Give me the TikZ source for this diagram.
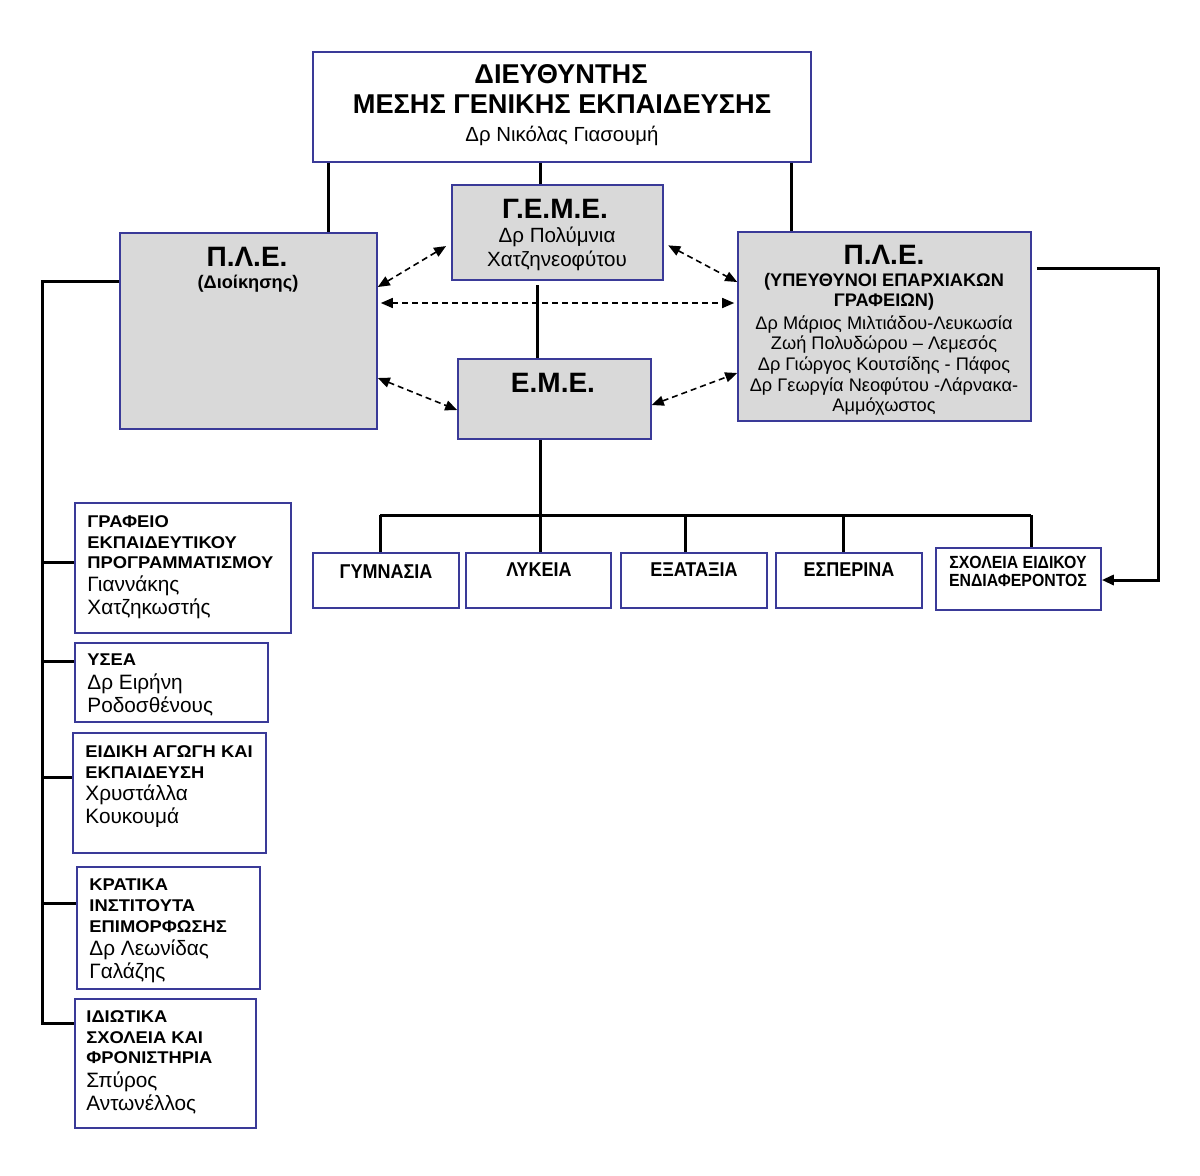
\documentclass[tikz,border=0pt]{standalone}
\usepackage{fontspec}
\setmainfont{Liberation Sans}
\newfontfamily\narrowfont[FakeStretch=0.9]{Liberation Sans}
\newfontfamily\widefont[FakeStretch=1.08]{Liberation Sans}
\usetikzlibrary{fit,arrows.meta}
\definecolor{bord}{HTML}{3A3A98}
\definecolor{boxgray}{HTML}{D9D9D9}
\tikzset{
 box/.style={draw=bord, line width=0.8pt, inner sep=0pt},
 graybox/.style={box, fill=boxgray},
 conn/.style={line width=1.5pt, black},
 dashar/.style={line width=0.8pt, dash pattern=on 3pt off 2pt, {Triangle[length=6pt,width=5pt]}-{Triangle[length=6pt,width=5pt]}},
 endar/.style={-{Triangle[length=6pt,width=5pt]}},
 txt/.style={inner sep=0pt, anchor=base},
 ttl/.style={txt, font=\bfseries\fontsize{13.6}{15}\selectfont},
 big/.style={txt, font=\bfseries\fontsize{14}{16}\selectfont},
 nm/.style={txt, font=\fontsize{9.1}{11}\selectfont},
 nmg/.style={txt, font=\fontsize{10.3}{12}\selectfont},
 sub/.style={txt, font=\bfseries\fontsize{9.1}{11}\selectfont},
 lb/.style={inner sep=0pt, anchor=base west, font=\widefont\bfseries\fontsize{8.5}{10}\selectfont},
 ln/.style={inner sep=0pt, anchor=base west, font=\fontsize{10.4}{12}\selectfont},
 nb/.style={txt, font=\narrowfont\bfseries\fontsize{10}{12}\selectfont},
 nbs/.style={txt, font=\narrowfont\bfseries\fontsize{8.8}{10}\selectfont},
}
\begin{document}
\begin{tikzpicture}[x=0.5pt,y=-0.5pt]
\useasboundingbox (0,0) rectangle (1200,1175);
% boxes
\node[box, fit={(313,52)(811,162)}] (top) {};
\node[graybox, fit={(120,233)(377,429)}] (ple1) {};
\node[graybox, fit={(452,185)(663,280)}] (geme) {};
\node[graybox, fit={(458,359)(651,439)}] (eme) {};
\node[graybox, fit={(738,232)(1031,421)}] (ple2) {};
\node[box, fit={(313,553)(459,608)}] (gym) {};
\node[box, fit={(466,553)(611,608)}] (lyk) {};
\node[box, fit={(621,553)(767,608)}] (exa) {};
\node[box, fit={(776,553)(922,608)}] (esp) {};
\node[box, fit={(936,548)(1101,610)}] (sxol) {};
\node[box, fit={(75,503)(291,633)}] (graf) {};
\node[box, fit={(75,643)(268,722)}] (ysea) {};
\node[box, fit={(73,733)(266,853)}] (eid) {};
\node[box, fit={(77,867)(260,989)}] (krat) {};
\node[box, fit={(75,999)(256,1128)}] (idio) {};
% texts
\node[ttl] (t1) at (561,83) {ΔΙΕΥΘΥΝΤΗΣ};
\node[ttl] (t2) at (562,113) {ΜΕΣΗΣ ΓΕΝΙΚΗΣ ΕΚΠΑΙΔΕΥΣΗΣ};
\node[nmg, font=\fontsize{10.2}{12}\selectfont] (t3) at (562,141) {Δρ Νικόλας Γιασουμή};
\node[big] (p1a) at (247,266) {Π.Λ.Ε.};
\node[sub] (p1b) at (248,288) {(Διοίκησης)};
\node[big] (g1) at (555,218) {Γ.Ε.Μ.Ε.};
\node[nmg] (g2) at (557,242) {Δρ Πολύμνια};
\node[nmg] (g3) at (557,266) {Χατζηνεοφύτου};
\node[big] (e1) at (553,392) {Ε.Μ.Ε.};
\node[big] (p2a) at (884,264) {Π.Λ.Ε.};
\node[sub] (p2b) at (884,286) {(ΥΠΕΥΘΥΝΟΙ ΕΠΑΡΧΙΑΚΩΝ};
\node[sub] (p2c) at (884,306) {ΓΡΑΦΕΙΩΝ)};
\node[nm] (p2d) at (884,329) {Δρ Μάριος Μιλτιάδου-Λευκωσία};
\node[nm] (p2e) at (884,349) {Ζωή Πολυδώρου – Λεμεσός};
\node[nm] (p2f) at (884,370) {Δρ Γιώργος Κουτσίδης - Πάφος};
\node[nm] (p2g) at (884,391) {Δρ Γεωργία Νεοφύτου -Λάρνακα-};
\node[nm] (p2h) at (884,411) {Αμμόχωστος};
\node[nb] (b1) at (386,578) {ΓΥΜΝΑΣΙΑ};
\node[nb] (b2) at (539,576) {ΛΥΚΕΙΑ};
\node[nb] (b3) at (694,576) {ΕΞΑΤΑΞΙΑ};
\node[nb] (b4) at (849,576) {ΕΣΠΕΡΙΝΑ};
\node[nbs] (b5a) at (1018,568) {ΣΧΟΛΕΙΑ ΕΙΔΙΚΟΥ};
\node[nbs] (b5b) at (1018,586) {ΕΝΔΙΑΦΕΡΟΝΤΟΣ};
\node[lb] (l1a) at (87,527) {ΓΡΑΦΕΙΟ};
\node[lb] (l1b) at (87,548) {ΕΚΠΑΙΔΕΥΤΙΚΟΥ};
\node[lb] (l1c) at (87,568) {ΠΡΟΓΡΑΜΜΑΤΙΣΜΟΥ};
\node[ln] (l1d) at (87,591) {Γιαννάκης};
\node[ln] (l1e) at (87,614) {Χατζηκωστής};
\node[lb] (l2a) at (87,665) {ΥΣΕΑ};
\node[ln] (l2b) at (87,689) {Δρ Ειρήνη};
\node[ln] (l2c) at (87,712) {Ροδοσθένους};
\node[lb] (l3a) at (85,757) {ΕΙΔΙΚΗ ΑΓΩΓΗ ΚΑΙ};
\node[lb] (l3b) at (85,778) {ΕΚΠΑΙΔΕΥΣΗ};
\node[ln] (l3c) at (85,800) {Χρυστάλλα};
\node[ln] (l3d) at (85,823) {Κουκουμά};
\node[lb] (l4a) at (89,890) {ΚΡΑΤΙΚΑ};
\node[lb] (l4b) at (89,911) {ΙΝΣΤΙΤΟΥΤΑ};
\node[lb] (l4c) at (89,932) {ΕΠΙΜΟΡΦΩΣΗΣ};
\node[ln] (l4d) at (89,955) {Δρ Λεωνίδας};
\node[ln] (l4e) at (89,978) {Γαλάζης};
\node[lb] (l5a) at (86,1022) {ΙΔΙΩΤΙΚΑ};
\node[lb] (l5b) at (86,1043) {ΣΧΟΛΕΙΑ ΚΑΙ};
\node[lb] (l5c) at (86,1063) {ΦΡΟΝΙΣΤΗΡΙΑ};
\node[ln] (l5d) at (86,1087) {Σπύρος};
\node[ln] (l5e) at (86,1110) {Αντωνέλλος};
% connectors from top
\draw[conn] (top.south -| 328,0) -- (ple1.north -| 328,0);
\draw[conn] (top.south -| 540,0) -- (geme.north -| 540,0);
\draw[conn] (top.south -| 791,0) -- (ple2.north -| 791,0);
\draw[conn] (537,285) -- (eme.north -| 537,0);
% bus below EME
\coordinate (busL) at (380,515);
\coordinate (busR) at (1031,515);
\draw[conn] (eme.south -| 540,0) -- (lyk.north -| 540,0);
\draw[conn] (busL) -- (busR);
\draw[conn] (busL) -- (gym.north -| busL);
\draw[conn] (685,515) -- (exa.north -| 685,0);
\draw[conn] (843,515) -- (esp.north -| 843,0);
\draw[conn] (busR) -- (sxol.north -| busR);
% right connector
\coordinate (rc1) at (1158,268);
\coordinate (rc2) at (1158,580);
\draw[conn, endar, shorten <=2.5pt] (ple2.east |- rc1) -- (rc1) -- (rc2) -- (sxol.east |- rc2);
% left bus
\coordinate (lc1) at (42,281);
\coordinate (lc2) at (42,1023);
\draw[conn] (ple1.west |- lc1) -- (lc1) -- (lc2) -- (idio.west |- lc2);
\draw[conn] (lc1 |- 0,562) -- (graf.west |- 0,562);
\draw[conn] (lc1 |- 0,661) -- (ysea.west |- 0,661);
\draw[conn] (lc1 |- 0,777) -- (eid.west |- 0,777);
\draw[conn] (lc1 |- 0,903) -- (krat.west |- 0,903);
% dashed arrows
\draw[dashar, shorten >=3pt] (ple1.east |- 0,287) -- (geme.west |- 0,243);
\draw[dashar, shorten <=1.5pt, shorten >=1.5pt] (ple1.east |- 0,303) -- (ple2.west |- 0,303);
\draw[dashar] (ple1.east |- 0,378) -- (eme.west |- 0,410);
\draw[dashar, shorten <=2.5pt] (geme.east |- 0,243) -- (ple2.west |- 0,282);
\draw[dashar] (eme.east |- 0,405) -- (ple2.west |- 0,373);
\end{tikzpicture}
\end{document}
